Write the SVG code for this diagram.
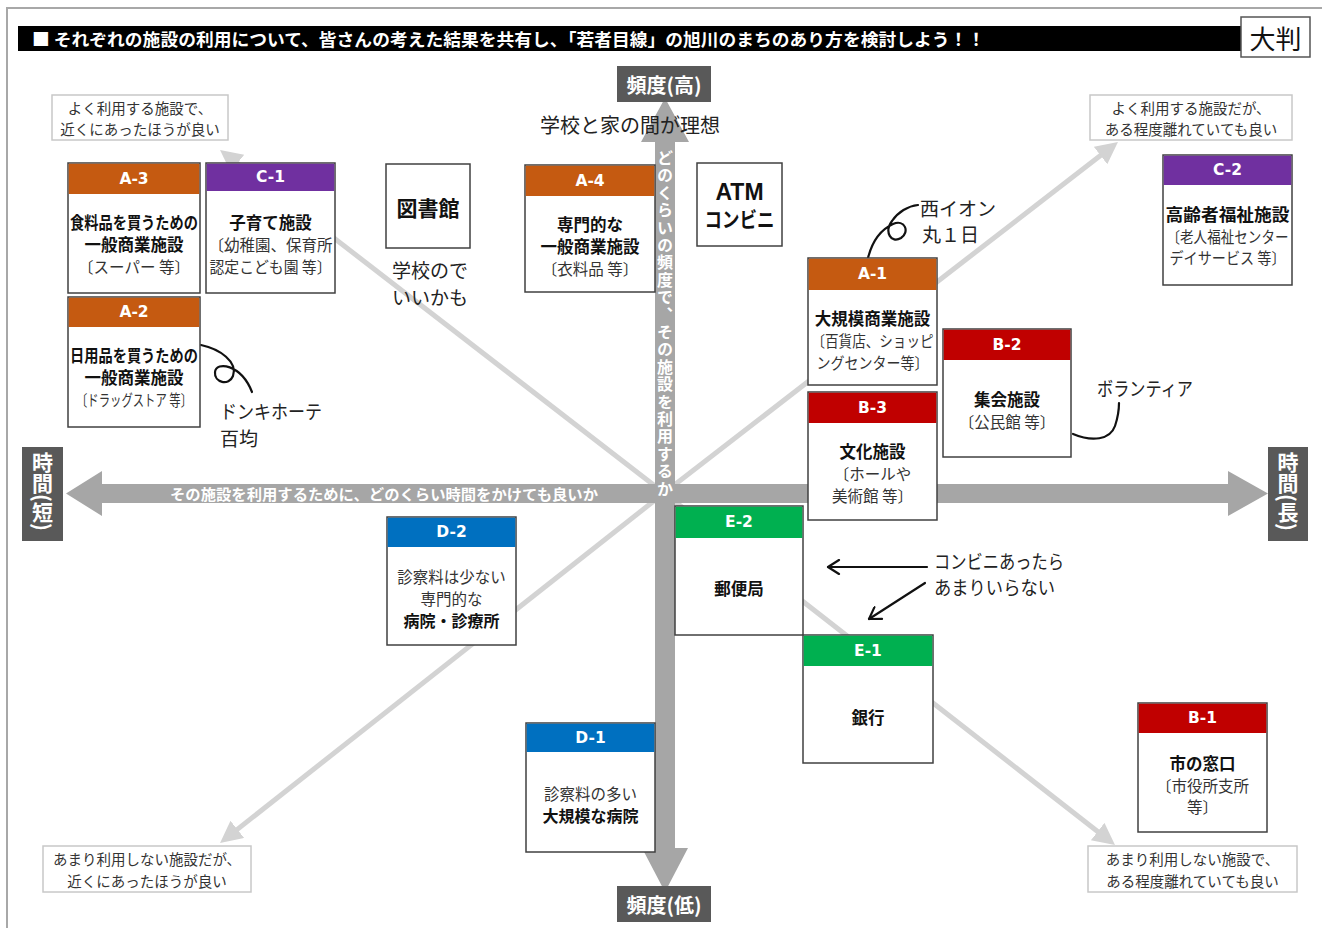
<svg xmlns="http://www.w3.org/2000/svg" width="1322" height="928" viewBox="0 0 1322 928">
<defs>
<style>
.jp{font-family:"Noto Sans CJK JP","Noto Sans CJK SC",sans-serif}
.hdr{font-family:"DejaVu Sans",sans-serif;font-weight:bold;font-size:15.5px;fill:#fff;text-anchor:middle;dominant-baseline:central}
.box{fill:#fff;stroke:#404040;stroke-width:1.5}
.b{font-family:"Noto Sans CJK JP",sans-serif;font-weight:bold;font-size:16.5px;fill:#111;text-anchor:middle;dominant-baseline:central}
.n{font-family:"Noto Sans CJK JP",sans-serif;font-weight:normal;font-size:15.5px;fill:#333;text-anchor:middle;dominant-baseline:central}
.nd{font-family:"Noto Sans CJK JP",sans-serif;font-weight:normal;font-size:15.5px;fill:#333;text-anchor:middle;dominant-baseline:central}
.note{font-family:"Noto Sans CJK JP",sans-serif;font-size:19px;fill:#222;dominant-baseline:central}
.crn{fill:#fff;stroke:#c8c8c8;stroke-width:1.5}
.ct{font-family:"Noto Sans CJK JP",sans-serif;font-size:14.5px;fill:#333;text-anchor:middle;dominant-baseline:central}
.axl{fill:#595959}
.axt{font-family:"Noto Sans CJK JP",sans-serif;font-weight:bold;font-size:20px;fill:#fff;text-anchor:middle;dominant-baseline:central}
.diag{stroke:#d3d3d3;stroke-width:5;fill:none;marker-end:url(#dg)}
.hand{stroke:#111;stroke-width:2.2;fill:none;stroke-linecap:round}
.oc{fill:#a6a6a6}
</style>
<marker id="dg" markerUnits="userSpaceOnUse" markerWidth="24" markerHeight="24" refX="6" refY="11" orient="auto">
<path d="M0,0 L22,11 L0,22 z" fill="#d3d3d3"/>
</marker>
<marker id="ar" markerUnits="userSpaceOnUse" markerWidth="16" markerHeight="16" refX="13" refY="8" orient="auto">
<path d="M2,1 L13,8 L2,15" fill="none" stroke="#111" stroke-width="2.2" stroke-linecap="round" stroke-linejoin="round"/>
</marker>
</defs>
<rect x="0" y="0" width="1322" height="928" fill="#fff"/>
<rect x="7" y="8" width="1330" height="940" fill="none" stroke="#a8a8a8" stroke-width="2"/>

<g id="title">
<rect x="18" y="26" width="1223" height="25" fill="#000"/>
<text x="32" y="38.5" class="jp" font-weight="bold" font-size="17.5" fill="#fff" dominant-baseline="central" textLength="953" lengthAdjust="spacingAndGlyphs">■ それぞれの施設の利用について、皆さんの考えた結果を共有し、「若者目線」の旭川のまちのあり方を検討しよう！！</text>
<rect x="1241" y="17" width="69" height="40" fill="#fff" stroke="#555" stroke-width="1.5"/>
<text x="1275.5" y="37" class="jp" font-size="26" fill="#111" text-anchor="middle" dominant-baseline="central">大判</text>
</g>

<g id="connectors">
<line x1="664" y1="493" x2="232.7" y2="159.8" class="diag"/>
<line x1="664" y1="493" x2="1105.3" y2="151.8" class="diag"/>
<line x1="664" y1="493" x2="232.6" y2="833.1" class="diag"/>
<line x1="664" y1="493" x2="1102.4" y2="835.2" class="diag"/>
<polygon class="oc" points="655,142 641,142 665,98 689,142 675,142 675,848 688,848 665,892 642,848 655,848"/>
<polygon class="oc" points="102,484 102,471 66,493.5 102,516 102,503 1228,503 1228,516 1268,493.5 1228,471 1228,484"/>
<text x="665" y="150" class="jp" font-weight="bold" font-size="16" fill="#fff" style="writing-mode:vertical-rl" letter-spacing="1.4">どのくらいの頻度で、その施設を利用するか</text>
<text x="170" y="493.5" class="jp" font-weight="bold" font-size="15" fill="#fff" dominant-baseline="central" textLength="428" lengthAdjust="spacingAndGlyphs">その施設を利用するために、どのくらい時間をかけても良いか</text>
<path class="hand" d="M868,258 C872,242 880,230 893,224 C905,219 910,232 901,238 C891,244 884,232 892,221 C898,212 908,206 918,205"/>
<path class="hand" d="M201,345 C220,349 238,362 233,376 C229,386 214,383 215,372 C216,361 241,364 252,392"/>
<path class="hand" d="M1073,434 C1092,442 1110,440 1115,426 C1118,417 1119,410 1119,403"/>
<line x1="927" y1="567" x2="828" y2="567" class="hand" marker-end="url(#ar)"/>
<line x1="925" y1="583" x2="869" y2="619" class="hand" marker-end="url(#ar)"/>
</g>

<g id="axis-high"><rect class="axl" x="617" y="66" width="94" height="36"/><text class="axt" x="664" y="84">頻度(高)</text></g>
<g id="axis-low"><rect class="axl" x="617" y="886" width="94" height="36"/><text class="axt" x="664" y="904">頻度(低)</text></g>
<g id="axis-short"><rect class="axl" x="22" y="447" width="41" height="94"/><text x="42.5" y="452" class="jp" font-weight="bold" font-size="21" fill="#fff" style="writing-mode:vertical-rl">時間(短)</text></g>
<g id="axis-long"><rect class="axl" x="1268" y="447" width="40" height="94"/><text x="1288" y="452" class="jp" font-weight="bold" font-size="21" fill="#fff" style="writing-mode:vertical-rl">時間(長)</text></g>

<g id="corner-tl"><rect class="crn" x="52" y="95" width="176" height="45"/><text class="ct" x="140" y="107">よく利用する施設で、</text><text class="ct" x="140" y="128">近くにあったほうが良い</text></g>
<g id="corner-tr"><rect class="crn" x="1090" y="95" width="202" height="45"/><text class="ct" x="1191" y="107">よく利用する施設だが、</text><text class="ct" x="1191" y="128">ある程度離れていても良い</text></g>
<g id="corner-bl"><rect class="crn" x="43" y="846" width="208" height="46"/><text class="ct" x="147" y="858">あまり利用しない施設だが、</text><text class="ct" x="147" y="880">近くにあったほうが良い</text></g>
<g id="corner-br"><rect class="crn" x="1088" y="846" width="209" height="46"/><text class="ct" x="1192.5" y="858">あまり利用しない施設で、</text><text class="ct" x="1192.5" y="880">ある程度離れていても良い</text></g>

<g id="A-3"><rect class="box" x="68" y="163" width="132" height="130"/><rect x="68.75" y="163.75" width="130.5" height="30.25" fill="#c55a11"/><text class="hdr" x="134" y="178.5">A-3</text>
<text class="b" x="134" y="222" textLength="128" lengthAdjust="spacingAndGlyphs">食料品を買うための</text><text class="b" x="134" y="244">一般商業施設</text><text class="n" x="134" y="266">〔スーパー 等〕</text></g>

<g id="C-1"><rect class="box" x="206" y="163" width="129" height="130"/><rect x="206.75" y="163.75" width="127.5" height="27.25" fill="#7030a0"/><text class="hdr" x="270.5" y="177">C-1</text>
<text class="b" x="270.5" y="222">子育て施設</text><text class="n" x="270.5" y="244" textLength="124" lengthAdjust="spacingAndGlyphs">〔幼稚園、保育所</text><text class="n" x="270.5" y="266" textLength="122" lengthAdjust="spacingAndGlyphs">認定こども園 等〕</text></g>

<g id="A-2"><rect class="box" x="68" y="297" width="132" height="130"/><rect x="68.75" y="297.75" width="130.5" height="29.25" fill="#c55a11"/><text class="hdr" x="134" y="312">A-2</text>
<text class="b" x="134" y="355" textLength="128" lengthAdjust="spacingAndGlyphs">日用品を買うための</text><text class="b" x="134" y="377">一般商業施設</text><text class="n" x="134" y="399" textLength="116" lengthAdjust="spacingAndGlyphs">〔ドラッグストア 等〕</text></g>

<g id="library"><rect class="box" x="386" y="164" width="84" height="84"/><text class="b" x="428" y="207" style="font-size:21px">図書館</text></g>
<g id="note-library"><text class="note" x="392" y="269">学校ので</text><text class="note" x="392" y="296">いいかも</text></g>
<g id="note-school"><text class="note" x="540" y="124" style="font-size:20px">学校と家の間が理想</text></g>

<g id="A-4"><rect class="box" x="525" y="165" width="130" height="127"/><rect x="525.75" y="165.75" width="128.5" height="30.25" fill="#c55a11"/><text class="hdr" x="590" y="180.5">A-4</text>
<text class="b" x="590" y="224">専門的な</text><text class="b" x="590" y="246">一般商業施設</text><text class="n" x="590" y="268">〔衣料品 等〕</text></g>

<g id="atm"><rect class="box" x="697" y="163" width="85" height="83"/><text x="739.5" y="192" font-family="Liberation Sans, Arial, sans-serif" font-weight="bold" font-size="23" fill="#111" text-anchor="middle" dominant-baseline="central">ATM</text><text class="b" x="739.5" y="218" style="font-size:21px" textLength="70" lengthAdjust="spacingAndGlyphs">コンビニ</text></g>

<g id="note-aeon"><text class="note" x="920" y="207">西イオン</text><text class="note" x="922" y="233">丸１日</text></g>

<g id="A-1"><rect class="box" x="808" y="258" width="129" height="127"/><rect x="808.75" y="258.75" width="127.5" height="31.25" fill="#c55a11"/><text class="hdr" x="872.5" y="274">A-1</text>
<text class="b" x="872.5" y="318">大規模商業施設</text><text class="n" x="872.5" y="340" textLength="122" lengthAdjust="spacingAndGlyphs">〔百貨店、ショッピ</text><text class="n" x="872.5" y="362" textLength="112" lengthAdjust="spacingAndGlyphs">ングセンター等〕</text></g>

<g id="B-2"><rect class="box" x="943" y="329" width="128" height="128"/><rect x="943.75" y="329.75" width="126.5" height="30.25" fill="#c00000"/><text class="hdr" x="1007" y="344.5">B-2</text>
<text class="b" x="1007" y="399">集会施設</text><text class="n" x="1007" y="421">〔公民館 等〕</text></g>

<g id="note-volunteer"><text class="note" x="1097" y="387" textLength="96" lengthAdjust="spacingAndGlyphs">ボランティア</text></g>

<g id="B-3"><rect class="box" x="808" y="392" width="129" height="128"/><rect x="808.75" y="392.75" width="127.5" height="30.25" fill="#c00000"/><text class="hdr" x="872.5" y="407.5">B-3</text>
<text class="b" x="872.5" y="451">文化施設</text><text class="n" x="872.5" y="473">〔ホールや</text><text class="n" x="872.5" y="495">美術館 等〕</text></g>

<g id="C-2"><rect class="box" x="1163" y="155" width="129" height="130"/><rect x="1163.75" y="155.75" width="127.5" height="29.25" fill="#7030a0"/><text class="hdr" x="1227.5" y="170">C-2</text>
<text class="b" x="1227.5" y="214" textLength="124" lengthAdjust="spacingAndGlyphs">高齢者福祉施設</text><text class="n" x="1227.5" y="236" textLength="122" lengthAdjust="spacingAndGlyphs">〔老人福祉センター</text><text class="n" x="1227.5" y="257" textLength="116" lengthAdjust="spacingAndGlyphs">デイサービス 等〕</text></g>

<g id="D-2"><rect class="box" x="387" y="517" width="129" height="128"/><rect x="387.75" y="517.75" width="127.5" height="29.25" fill="#0070c0"/><text class="hdr" x="451.5" y="532">D-2</text>
<text class="nd" x="451.5" y="576">診察料は少ない</text><text class="nd" x="451.5" y="598">専門的な</text><text class="b" x="451.5" y="620" style="font-size:16px">病院・診療所</text></g>

<g id="E-2"><rect class="box" x="675" y="506" width="128" height="129"/><rect x="675.75" y="506.75" width="126.5" height="31.25" fill="#00b050"/><text class="hdr" x="739" y="522">E-2</text>
<text class="b" x="739" y="588">郵便局</text></g>

<g id="E-1"><rect class="box" x="803" y="635" width="130" height="128"/><rect x="803.75" y="635.75" width="128.5" height="30.25" fill="#00b050"/><text class="hdr" x="868" y="650.5">E-1</text>
<text class="b" x="868" y="717">銀行</text></g>

<g id="note-conv"><text class="note" x="934" y="560" textLength="130" lengthAdjust="spacingAndGlyphs">コンビニあったら</text><text class="note" x="934" y="586" textLength="121" lengthAdjust="spacingAndGlyphs">あまりいらない</text></g>

<g id="note-donki"><text class="note" x="220" y="410" textLength="102" lengthAdjust="spacingAndGlyphs">ドンキホーテ</text><text class="note" x="220" y="437">百均</text></g>

<g id="D-1"><rect class="box" x="526" y="723" width="129" height="129"/><rect x="526.75" y="723.75" width="127.5" height="28.25" fill="#0070c0"/><text class="hdr" x="590.5" y="738">D-1</text>
<text class="nd" x="590.5" y="793">診察料の多い</text><text class="b" x="590.5" y="815" style="font-size:16px">大規模な病院</text></g>

<g id="B-1"><rect class="box" x="1138" y="703" width="129" height="129"/><rect x="1138.75" y="703.75" width="127.5" height="29.25" fill="#c00000"/><text class="hdr" x="1202.5" y="718">B-1</text>
<text class="b" x="1202.5" y="763">市の窓口</text><text class="n" x="1202.5" y="785">〔市役所支所</text><text class="n" x="1202.5" y="806">等〕</text></g>
</svg>
